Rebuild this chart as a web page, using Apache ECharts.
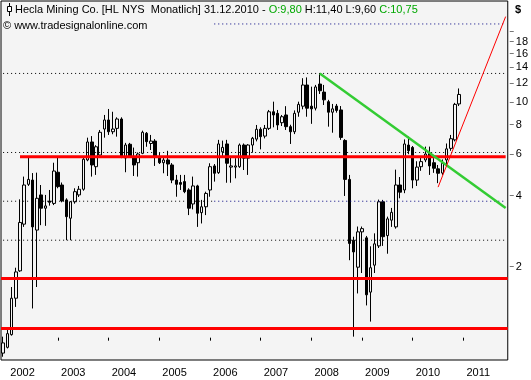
<!DOCTYPE html>
<html><head><meta charset="utf-8">
<script src="https://cdn.jsdelivr.net/npm/echarts@6/dist/echarts.min.js"></script>
<style>html,body{margin:0;padding:0;background:#fff}#c{width:531px;height:380px}</style>
</head><body><div id="c"></div>
<script>
// Monthly candles Dec 2001 .. Dec 2010 (Hecla Mining, HL NYSE)
const opens  = [0.86,0.91,1.03,1.47,1.92,3.03,4.47,4.66,2.86,4.03,3.54,3.80,3.71,5.03,4.44,3.84,3.21,3.77,4.03,4.26,5.67,6.76,5.31,5.95,7.67,8.38,7.47,7.72,8.46,5.78,6.61,5.78,5.52,6.05,7.36,6.66,6.82,5.80,5.52,5.67,5.40,4.66,4.55,4.59,4.23,3.69,4.40,3.39,3.59,4.23,5.35,5.01,6.14,6.63,5.29,5.29,5.31,6.56,5.77,6.56,6.95,7.65,7.16,7.72,9.08,8.94,8.16,8.80,7.85,7.47,9.04,9.59,11.79,9.59,9.40,11.90,11.00,10.02,9.04,9.60,9.24,6.86,4.69,2.59,1.99,2.81,2.65,1.56,2.03,2.45,3.77,2.71,3.15,2.95,4.44,4.23,6.56,6.41,4.66,5.31,5.67,6.05,5.52,5.20,4.99,5.67,6.35,6.90,9.80];
const closes = [0.95,1.04,1.47,1.90,3.08,4.44,4.69,2.95,3.90,3.54,3.62,3.75,5.09,4.37,3.80,3.26,3.77,4.16,4.26,5.71,6.76,5.40,6.45,7.43,8.38,7.47,7.67,8.46,5.85,6.56,5.89,5.40,6.01,7.43,6.78,6.82,5.89,5.52,5.67,5.45,4.66,4.47,4.47,4.16,3.54,4.40,3.37,3.59,4.09,5.31,4.98,6.63,6.41,5.49,5.35,5.35,6.56,5.77,6.56,7.01,7.65,7.12,7.72,9.08,8.80,7.98,8.65,7.85,7.47,8.94,9.76,11.79,9.40,9.34,11.57,11.15,10.20,9.04,9.34,9.20,7.07,4.69,2.51,2.31,2.81,2.90,1.52,1.98,2.50,3.77,2.68,3.19,3.40,4.44,4.14,6.63,6.21,4.66,5.29,5.58,6.01,5.35,5.23,4.98,5.49,6.32,6.98,9.76,10.75];
const lows   = [0.83,0.90,1.02,1.35,1.90,2.95,4.40,1.33,1.64,3.00,2.98,3.63,3.65,4.30,3.75,2.59,2.59,3.70,3.95,4.20,5.60,4.82,4.90,5.85,7.05,7.24,7.29,7.12,5.77,5.03,5.80,4.85,4.82,6.00,6.45,6.25,5.35,5.45,4.98,4.85,4.52,3.96,4.23,4.10,3.31,3.50,2.95,3.05,3.31,3.96,4.59,4.95,5.90,4.54,4.54,4.74,5.25,5.14,4.90,6.09,6.80,6.29,7.00,7.60,7.80,7.60,7.90,7.60,6.63,7.30,8.65,9.30,8.65,8.07,9.20,10.80,9.70,7.85,7.40,9.00,6.90,3.99,2.13,1.01,1.54,1.88,1.37,1.17,1.88,2.40,2.45,2.27,2.95,2.90,3.90,4.10,6.00,4.30,4.40,5.10,5.55,4.90,5.00,4.52,4.90,5.40,6.20,6.80,9.60];
const highs  = [1.01,1.10,1.64,1.98,3.86,4.82,5.82,4.99,5.01,4.44,4.03,4.23,5.52,5.82,4.55,3.90,3.80,4.30,4.40,5.80,7.05,7.16,6.55,7.60,8.80,9.33,9.08,8.60,8.60,6.70,6.70,6.40,6.10,7.55,7.45,7.24,6.95,6.09,5.80,6.20,5.50,4.90,4.90,4.90,4.30,4.82,4.45,3.84,4.16,5.49,5.45,6.90,6.85,6.90,5.85,5.77,6.66,6.66,6.62,7.10,7.98,7.80,7.98,9.24,10.02,9.24,8.80,9.59,8.00,9.20,10.02,12.60,12.70,11.60,11.80,13.20,11.80,10.20,9.80,9.80,9.60,6.95,4.90,2.68,2.96,2.96,2.70,2.44,2.77,3.85,3.84,3.26,3.55,5.16,4.80,6.93,7.12,6.50,5.60,5.85,6.46,6.46,5.77,5.40,5.70,6.66,7.24,9.90,11.40];

// x categories: months Dec 2001 .. Nov 2011
const firstYear = 2001, firstMonth = 12, monthCount = 120;
const categories = [];
for (let k = 0; k < monthCount; k++) {
  const m = (firstMonth - 1 + k) % 12 + 1;
  const y = firstYear + Math.floor((firstMonth - 1 + k) / 12);
  categories.push(y + '-' + String(m).padStart(2, '0'));
}

// price axis (logarithmic)
const priceMin = 0.804, priceMax = 26.78;
const yTickValues  = [2, 4, 6, 8, 10, 12, 14, 16, 18, 20];
const yLabelValues = [2, 4, 6, 8, 10, 12, 14, 16, 18];

// drawn lines
const redLevels = [1.10, 1.76];           // full width support lines
const redLevelTop = 5.85, redLevelTopFrom = '2002-04';
const dottedBlack = [13.2, 6.10, 2.59];
const dottedMixed = 3.79, dottedMixedSwitch = '2006-02';
const dottedBlueTop = 21.4;
const greenTrend = [['2008-03', 13.2], ['2011-11', 3.55]];
const redTrend = [['2010-07', 4.35], ['2011-11', 23.0]];

const FONT = '"Liberation Sans", Arial, sans-serif';
const L = v => Math.log10(v);
const lastCat = categories[categories.length - 1];
const firstCat = categories[0];

const candleData = opens.map((o, i) => [L(o), L(closes[i]), L(lows[i]), L(highs[i])]);

function seg(points, color, width, type, z) {
  return {
    type: 'line', data: points.map(p => [p[0], L(p[1])]),
    symbol: 'none', silent: true, z: z || 5,
    lineStyle: { color: color, width: width, type: type || 'solid' }
  };
}

const isJan = (idx, val) => String(val).endsWith('-01');

const series = [
  {
    type: 'candlestick', data: candleData, barWidth: 3, z: 2,
    itemStyle: { color: '#f4f4f4', color0: '#000', borderColor: '#000', borderColor0: '#000', borderWidth: 1 },
    markLine: {
      symbol: 'none', silent: true, label: { show: false }, animation: false,
      data: redLevels.map(v => ({ yAxis: L(v), lineStyle: { color: '#ff0000', width: 3, type: 'solid' } }))
    },
    markLineZ: 0
  },
  seg([[firstCat, dottedBlack[0]], [lastCat, dottedBlack[0]]], '#000', 1, [1, 3], 3),
  seg([[firstCat, dottedBlack[1]], [lastCat, dottedBlack[1]]], '#000', 1, [1, 3], 3),
  seg([[firstCat, dottedBlack[2]], [lastCat, dottedBlack[2]]], '#000', 1, [1, 3], 3),
  seg([[firstCat, dottedMixed], [dottedMixedSwitch, dottedMixed]], '#000', 1, [1, 3], 3),
  seg([[dottedMixedSwitch, dottedMixed], [lastCat, dottedMixed]], '#000080', 1, [1, 3], 3),
  seg([[dottedMixedSwitch, dottedBlueTop], [lastCat, dottedBlueTop]], '#000080', 1, [1, 3], 3),
  seg([[redLevelTopFrom, redLevelTop], [lastCat, redLevelTop]], '#ff0000', 3, 'solid', 6),
  seg(greenTrend, '#33cc33', 2.5, 'solid', 7),
  seg(redTrend, '#ff0000', 1, 'solid', 8)
];

const chart = echarts.init(document.getElementById('c'), null, { renderer: 'canvas' });
chart.setOption({
  animation: false,
  backgroundColor: '#ffffff',
  grid: { left: 1, top: 1, width: 509, height: 359, show: true, backgroundColor: '#f4f4f4', borderColor: '#000', borderWidth: 1 },
  xAxis: {
    type: 'category', data: categories, boundaryGap: true, offset: 3,
    axisLine: { show: false },
    axisTick: { show: true, alignWithLabel: true, length: 3, interval: isJan, lineStyle: { color: '#000' } },
    axisLabel: { interval: isJan, formatter: v => v.slice(0, 4), align: 'left', padding: [0, 0, 0, 3], margin: 4,
                 fontFamily: FONT, fontSize: 11, color: '#000' },
    splitLine: { show: false }
  },
  yAxis: {
    type: 'value', position: 'right', min: L(priceMin), max: L(priceMax), offset: 2,
    axisLine: { show: false }, splitLine: { show: false },
    axisTick: { show: true, length: 4, customValues: yTickValues.map(L), lineStyle: { color: '#777' } },
    axisLabel: { customValues: yLabelValues.map(L), formatter: v => String(Math.round(Math.pow(10, v))),
                 margin: 6, fontFamily: FONT, fontSize: 11, color: '#000' }
  },
  graphic: [
    { type: 'line', silent: true, z: 20, shape: { x1: 9.5, y1: 3, x2: 9.5, y2: 16 }, style: { stroke: '#000', lineWidth: 1 } },
    { type: 'rect', silent: true, z: 21, shape: { x: 7.5, y: 6.5, width: 4, height: 5 }, style: { fill: '#fff', stroke: '#000', lineWidth: 1 } },
    { type: 'text', silent: true, z: 20, x: 15, y: 10,
      style: { text: '{k|Hecla Mining Co. [HL NYS  Monatlich] 31.12.2010 - }{g|O:9,80}{k| H:11,40 L:9,60 }{g|C:10,75}',
               verticalAlign: 'middle', align: 'left', font: '11px ' + FONT,
               rich: { k: { fill: '#000', fontFamily: FONT, fontSize: 11 }, g: { fill: '#00a800', fontFamily: FONT, fontSize: 11 } } } },
    { type: 'text', silent: true, z: 20, x: 3, y: 26,
      style: { text: '\u00a9 www.tradesignalonline.com', verticalAlign: 'middle', align: 'left', font: '11px ' + FONT, fill: '#000' } },
    { type: 'text', silent: true, z: 20, x: 515, y: 10,
      style: { text: '$', verticalAlign: 'middle', align: 'left', font: 'bold 11px ' + FONT, fill: '#000' } }
  ],
  series: series
});
</script>
</body></html>
